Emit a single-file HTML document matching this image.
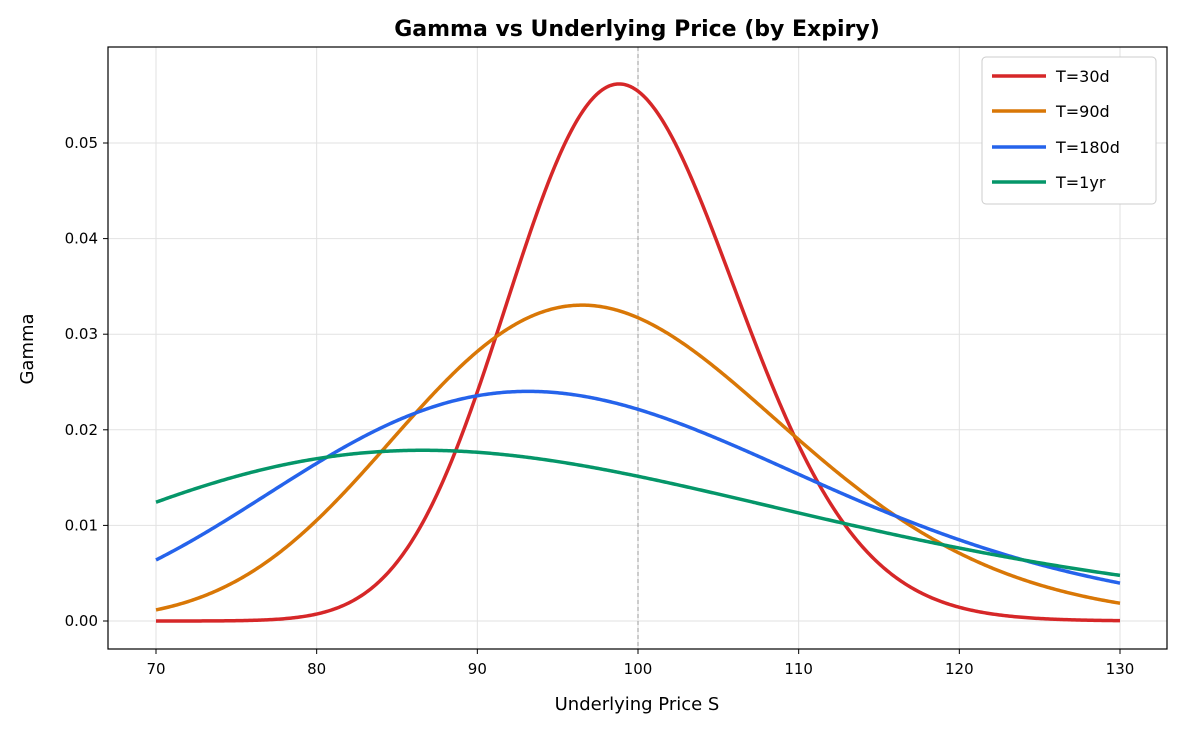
<!DOCTYPE html>
<html><head><meta charset="utf-8"><style>
html,body{margin:0;padding:0;background:#fff;}
svg text{font-family:"DejaVu Sans","Liberation Sans",sans-serif;}
</style></head><body>
<svg id="c" width="1182" height="730" xmlns="http://www.w3.org/2000/svg">
<rect width="1182" height="730" fill="#fff"/>
<g id="grid" stroke="#e2e2e2" stroke-width="1"></g>
<line x1="638" y1="47" x2="638" y2="649" stroke="#aaa" stroke-width="1.2" stroke-dasharray="4,3"/>
<g id="curves" fill="none" stroke-width="3.5" stroke-linejoin="round"></g>
<rect x="108" y="47" width="1059" height="602" fill="none" stroke="#000" stroke-width="1.2"/>
<g id="ticks" font-size="15" fill="#000"></g>
<text x="637" y="36" font-size="22" font-weight="bold" text-anchor="middle">Gamma vs Underlying Price (by Expiry)</text>
<text x="637" y="710" font-size="18" text-anchor="middle">Underlying Price S</text>
<text x="33" y="349" font-size="18" text-anchor="middle" transform="rotate(-90 33 349)">Gamma</text>
<g>
<rect x="982" y="57" width="174" height="147" rx="4" fill="#fff" stroke="#ccc"/>
<line x1="992" y1="76" x2="1046" y2="76" stroke="#d62728" stroke-width="3.5"/>
<text x="1056" y="82" font-size="16">T=30d</text>
<line x1="992" y1="111" x2="1046" y2="111" stroke="#d97706" stroke-width="3.5"/>
<text x="1056" y="117" font-size="16">T=90d</text>
<line x1="992" y1="147" x2="1046" y2="147" stroke="#2563eb" stroke-width="3.5"/>
<text x="1056" y="153" font-size="16">T=180d</text>
<line x1="992" y1="182" x2="1046" y2="182" stroke="#059669" stroke-width="3.5"/>
<text x="1056" y="188" font-size="16">T=1yr</text>
</g>
</svg>
<script>
var NS="http://www.w3.org/2000/svg";
function X(s){return 156+(s-70)*(1120-156)/60;}
function Y(g){return 621-g*478/0.05;}
var grid=document.getElementById('grid'),ticks=document.getElementById('ticks'),cur=document.getElementById('curves');
function el(t,a,p,txt){var e=document.createElementNS(NS,t);for(var k in a)e.setAttribute(k,a[k]);if(txt!==undefined)e.textContent=txt;p.appendChild(e);return e;}
for(var s=70;s<=130;s+=10){var x=X(s);el('line',{x1:x,y1:47,x2:x,y2:649},grid);
el('line',{x1:x,y1:649,x2:x,y2:654,stroke:'#000'},ticks);el('text',{x:x,y:674,'text-anchor':'middle'},ticks,String(s));}
for(var i=0;i<=5;i++){var g=i*0.01,y=Y(g);el('line',{x1:108,y1:y,x2:1167,y2:y},grid);
el('line',{x1:103,y1:y,x2:108,y2:y,stroke:'#000'},ticks);el('text',{x:98,y:y+5,'text-anchor':'end'},ticks,g.toFixed(2));}
var K=100,sig=0.25,r=0.05;
function gam(S,T){var st=sig*Math.sqrt(T);var d1=(Math.log(S/K)+(r+sig*sig/2)*T)/st;return Math.exp(-d1*d1/2)/Math.sqrt(2*Math.PI)/(S*st);}
[[30/365,'#d62728'],[90/365,'#d97706'],[180/365,'#2563eb'],[1,'#059669']].forEach(function(c){
var d='';for(var j=0;j<=600;j++){var S=70+j*0.1;d+=(j?'L':'M')+X(S).toFixed(2)+','+Y(gam(S,c[0])).toFixed(2);}
el('path',{d:d,stroke:c[1]},cur);});
</script>
</body></html>
